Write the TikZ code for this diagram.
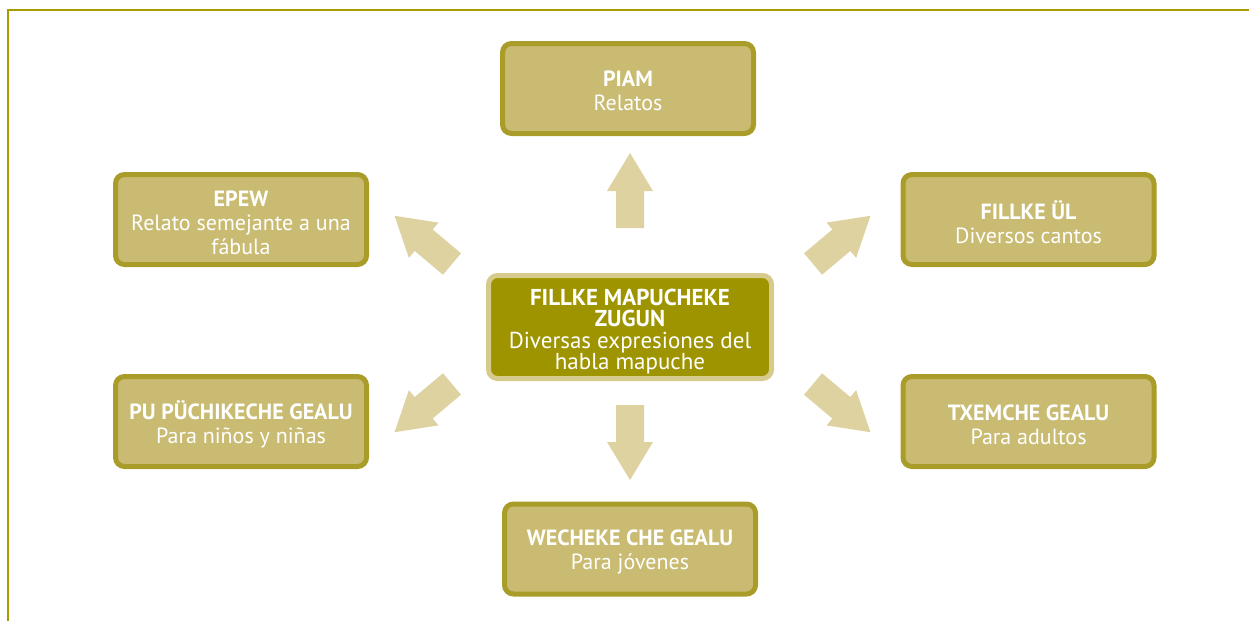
\documentclass[tikz,border=0pt]{standalone}
\usepackage{fontspec}
\setmainfont{PT Sans}
\definecolor{frameline}{HTML}{A89A00}
\definecolor{boxline}{HTML}{AA9C28}
\definecolor{boxfill}{HTML}{C9BB72}
\definecolor{arrowfill}{HTML}{DED2A0}
\definecolor{centerfill}{HTML}{9E9400}
\definecolor{centerline}{HTML}{D6CA8C}
\tikzset{
  box/.style={draw=boxline, fill=boxfill, line width=5pt, rounded corners=9pt,
    minimum width=251pt, minimum height=90pt, inner sep=0pt},
  boxtext/.style={inner sep=0pt, text=white, align=center, font=\fontsize{22}{24}\selectfont},
  centerbox/.style={draw=centerline, fill=centerfill, line width=5pt, rounded corners=9pt,
    minimum width=283pt, minimum height=103pt, inner sep=0pt},
  centertext/.style={inner sep=0pt, text=white, align=center, font=\fontsize{23}{21.5}\selectfont},
  blockarrow/.pic={\fill[arrowfill] (0,-14) -- (37,-14) -- (37,-23) -- (75,0) -- (37,23) -- (37,14) -- (0,14) -- cycle;}
}
\begin{document}
\begin{tikzpicture}[x=1pt,y=-1pt]
\useasboundingbox (0,0) rectangle (1249,621);
\draw[frameline, line width=1.5pt] (8,621) -- (8,10) -- (1249,10);

\node[centerbox] (center) at (630,327) {};
\node[centertext] (centert) at ([yshift=-4.5pt]center.center) {\textbf{FILLKE MAPUCHEKE}\\\textbf{ZUGUN}\\Diversas expresiones del\\habla mapuche};

\node[box] (piam) at (628,88.5) {};
\node[boxtext] (piamt) at ([yshift=-2.5pt]piam.center) {\textbf{PIAM}\\Relatos};
\node[box] (epew) at (241,219.5) {};
\node[boxtext] (epewt) at ([yshift=-3pt]epew.center) {\textbf{EPEW}\\Relato semejante a una\\fábula};
\node[box] (fillke) at (1028.5,219.5) {};
\node[boxtext] (fillket) at ([yshift=-3pt]fillke.center) {\textbf{FILLKE ÜL}\\Diversos cantos};
\node[box] (pu) at (241,421.5) {};
\node[boxtext] (put) at ([yshift=-3pt]pu.center) {\textbf{PU PÜCHIKECHE GEALU}\\Para niños y niñas};
\node[box] (txemche) at (1028.5,421.5) {};
\node[boxtext] (txemchet) at ([yshift=-3pt]txemche.center) {\textbf{TXEMCHE GEALU}\\Para adultos};
\node[box] (wecheke) at (630,549) {};
\node[boxtext] (wechekt) at ([yshift=-3pt]wecheke.center) {\textbf{WECHEKE CHE GEALU}\\Para jóvenes};

\coordinate (aup) at (630,228);
\coordinate (adown) at (630,405);
\coordinate (aul) at (452,264);
\coordinate (all) at (452,384);
\coordinate (aur) at (813,264);
\coordinate (alr) at (813,384);
\pic[rotate=90] at (aup) {blockarrow};
\pic[rotate=-90] at (adown) {blockarrow};
\pic[rotate=140] at (aul) {blockarrow};
\pic[rotate=220] at (all) {blockarrow};
\pic[rotate=40] at (aur) {blockarrow};
\pic[rotate=-40] at (alr) {blockarrow};
\end{tikzpicture}
\end{document}
